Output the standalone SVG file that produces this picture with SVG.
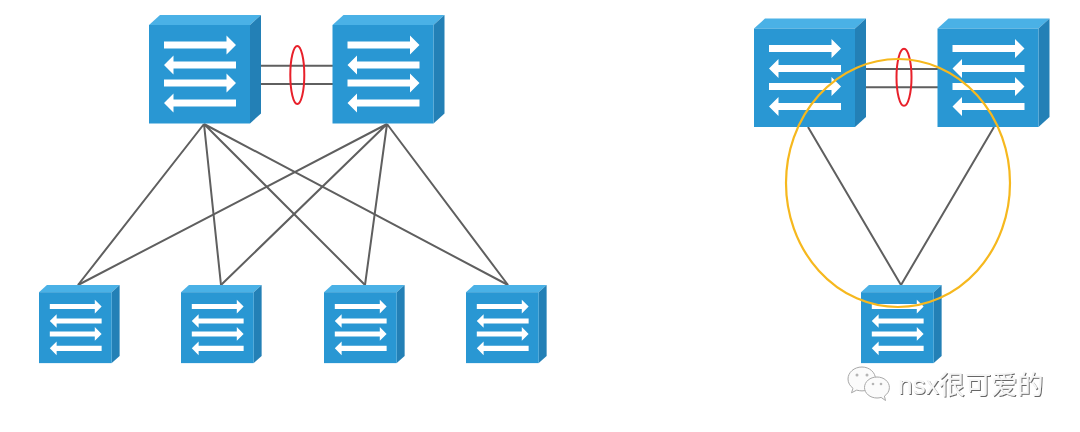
<svg xmlns="http://www.w3.org/2000/svg" width="1080" height="432" viewBox="0 0 1080 432">
<style>
.front{fill:#2997d3}.top{fill:#4ab1e6}.side{fill:#2380b6}.arrow{fill:#fff}
.link{stroke:#5f5f5f;stroke-width:2;fill:none}
.lag{stroke:#e8202a;stroke-width:2;fill:none}
.wm{font-family:"Liberation Sans","Noto Sans CJK SC",sans-serif;font-size:26.2px;fill:#f6f6f6;filter:url(#sh)}
.wi{fill:#fbfbfb;stroke:#a8a8a8;stroke-width:1}
.wd{fill:#b5b5b5}
</style>
<defs>
<filter id="sh" x="-5%" y="-20%" width="110%" height="140%"><feDropShadow dx="1" dy="1" stdDeviation="0.6" flood-color="#555" flood-opacity="0.9"/></filter>
<g id="sw">
<polygon class="top" points="0,10 11,0 112,0 101,10"/>
<polygon class="side" points="101,10 112,0 112,98.5 101,108.5"/>
<rect class="front" x="0" y="10" width="101" height="98.5"/>
<polygon class="arrow" points="15,26.500 77.500,26.500 77.500,20.500 87,30 77.500,39.500 77.500,33.500 15,33.500"/>
<polygon class="arrow" points="87,46.500 24.500,46.500 24.500,40.500 15,50 24.500,59.500 24.500,53.500 87,53.500"/>
<polygon class="arrow" points="15,64.500 77.500,64.500 77.500,58.500 87,68 77.500,77.500 77.500,71.500 15,71.500"/>
<polygon class="arrow" points="87,84.500 24.500,84.500 24.500,78.500 15,88 24.500,97.500 24.500,91.500 87,91.500"/>
</g>
</defs>
<rect width="1080" height="432" fill="#fff"/>
<g id="connectors">
<path class="link" d="M204 124L78 285M204 124L221 285M204 124L365 285M204 124L508 285"/>
<path class="link" d="M387 124L78 285M387 124L221 285M387 124L365 285M387 124L508 285"/>
<path class="link" d="M261 65.700H333M261 84H333"/>
<path class="link" d="M808 127L901 285M994 127L901 285"/>
<path class="link" d="M865 69H938M865 87.300H938"/>
</g>
<g id="core-a"><use href="#sw" transform="translate(149 15)"/></g>
<g id="core-b"><use href="#sw" transform="translate(332.500 15)"/></g>
<g id="access-1"><use href="#sw" transform="translate(39 285) scale(.72)"/></g>
<g id="access-2"><use href="#sw" transform="translate(181 285) scale(.72)"/></g>
<g id="access-3"><use href="#sw" transform="translate(324 285) scale(.72)"/></g>
<g id="access-4"><use href="#sw" transform="translate(466 285) scale(.72)"/></g>
<g id="core-c"><use href="#sw" transform="translate(754 18.500)"/></g>
<g id="core-d"><use href="#sw" transform="translate(937.500 18.500)"/></g>
<g id="access-5"><use href="#sw" transform="translate(861 285) scale(.72)"/></g>
<ellipse id="lag-left" class="lag" cx="297.300" cy="75" rx="7" ry="29"/>
<ellipse id="lag-right" class="lag" cx="904" cy="77.300" rx="7.500" ry="28.500"/>
<ellipse id="domain" cx="898" cy="183" rx="112" ry="124" fill="none" stroke="#f6b81e" stroke-width="2.200"/>
<g id="watermark">
<path class="wi" d="M862 367c-8 0-14 5.500-14 12 0 3.800 2 7 5 9.300l-1.500 4.500 5.200-2.700c1.800.5 3.500.8 5.300.8 7.500 0 13.500-5.400 13.500-11.900S869.500 367 862 367z"/>
<path class="wi" d="M877 377c-7 0-12.500 4.700-12.500 10.500S870 398 877 398c1.400 0 2.800-.2 4.100-.6l4.400 3.100-1.100-4.400c3-2 5-5 5-8.600 0-5.800-5.400-10.500-12.400-10.500z"/>
<circle class="wd" cx="857" cy="375" r="1.500"/><circle class="wd" cx="867" cy="375" r="1.500"/>
<circle class="wd" cx="873" cy="384" r="1.300"/><circle class="wd" cx="881" cy="384" r="1.300"/>
<text class="wm" x="898" y="393.500">nsx很可爱的</text>
</g>
</svg>
